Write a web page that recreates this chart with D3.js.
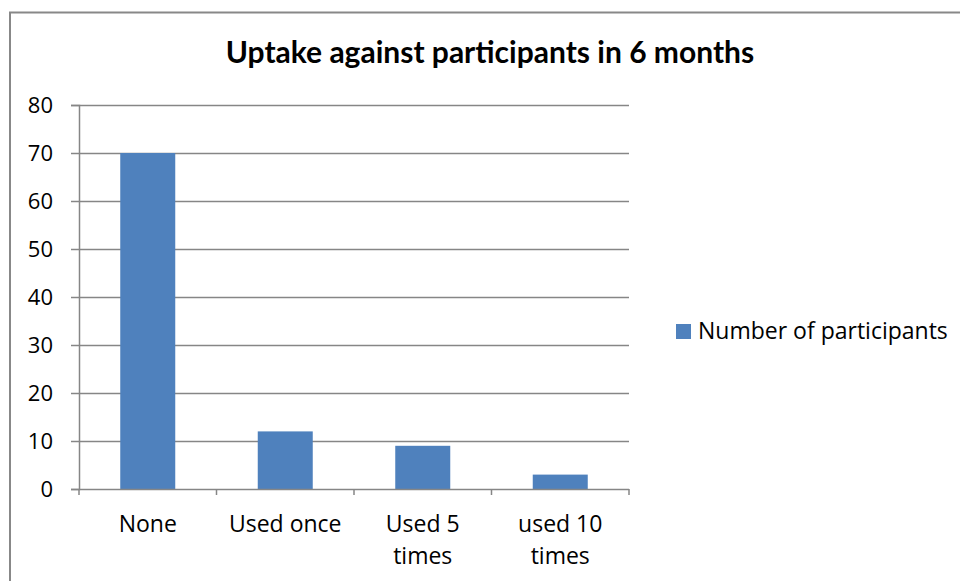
<!DOCTYPE html>
<html><head><meta charset="utf-8">
<script src="https://cdn.jsdelivr.net/npm/d3@7"></script>
<style>body{margin:0;background:#fff}svg{display:block}text{font-family:"Open Sans",sans-serif;fill:#000}</style>
</head><body><svg id="c" width="960" height="581"></svg>
<script>
const categories = ["None", "Used once", "Used 5 times", "used 10 times"];
const categoryLines = [["None"], ["Used once"], ["Used 5", "times"], ["used 10", "times"]];
const values = [70, 12, 9, 3];
const yTicks = [0, 10, 20, 30, 40, 50, 60, 70, 80];
const seriesName = "Number of participants";
const title = "Uptake against participants in 6 months";

const svg = d3.select("#c");
const m = {l: 79, r: 629, t: 105, b: 489};
svg.append("rect").attr("x", 10).attr("y", 12.5).attr("width", 960).attr("height", 600)
  .attr("fill", "#fff").attr("stroke", "#888").attr("stroke-width", 2);

const x = d3.scaleBand().domain(categories).range([m.l, m.r]).paddingInner(0.6).paddingOuter(0.3);
const y = d3.scaleLinear().domain([0, 80]).range([m.b, m.t]);
const grey = "#868686";
const fs = 23;

// gridlines
svg.append("g").selectAll("line").data(yTicks.filter(d => d > 0)).join("line")
  .attr("x1", m.l).attr("x2", m.r).attr("y1", d => y(d) + 0.5).attr("y2", d => y(d) + 0.5)
  .attr("stroke", grey).attr("stroke-width", 1.5);

// bars
svg.append("g").selectAll("rect").data(values).join("rect")
  .attr("x", (d, i) => x(categories[i])).attr("width", x.bandwidth())
  .attr("y", d => y(d)).attr("height", d => y(0) - y(d)).attr("fill", "#4F81BD");

// y axis
const ya = svg.append("g").attr("transform", `translate(${m.l},0)`)
  .call(d3.axisLeft(y).tickValues(yTicks).tickSize(8).tickFormat(""));
ya.select(".domain").attr("stroke", grey).attr("stroke-width", 1.5);
ya.selectAll(".tick line").attr("stroke", grey).attr("stroke-width", 1.5);
svg.append("g").selectAll("text").data(yTicks).join("text")
  .attr("x", 53).attr("y", d => y(d)).attr("dy", "0.36em").attr("text-anchor", "end")
  .style("font-size", "22px").text(d => d);

// x axis
const xa = svg.append("g").attr("transform", `translate(0,${m.b})`);
xa.append("line").attr("x1", m.l).attr("x2", m.r).attr("y1", 0.5).attr("y2", 0.5)
  .attr("stroke", grey).attr("stroke-width", 1.5);
const edges = d3.range(categories.length + 1).map(i => m.l + i * (m.r - m.l) / categories.length);
xa.selectAll("line.tk").data(edges).join("line").attr("class", "tk")
  .attr("x1", d => d).attr("x2", d => d).attr("y1", 0).attr("y2", 6)
  .attr("stroke", grey).attr("stroke-width", 1.5);
categoryLines.forEach((lines, i) => {
  const cx = x(categories[i]) + x.bandwidth() / 2;
  const t = xa.append("text").attr("text-anchor", "middle").style("font-size", fs + "px");
  lines.forEach((ln, j) => t.append("tspan").attr("x", cx).attr("y", 43 + j * 32).text(ln));
});

// title
svg.append("text").attr("x", 490).attr("y", 63).attr("text-anchor", "middle")
  .style("font-family", "Lato").style("font-size", "30px").attr("font-weight", "bold").text(title);

// legend
svg.append("rect").attr("x", 676).attr("y", 324).attr("width", 15).attr("height", 15).attr("fill", "#4F81BD");
svg.append("text").attr("x", 698).attr("y", 339).style("font-size", fs + "px").text(seriesName);
</script></body></html>
